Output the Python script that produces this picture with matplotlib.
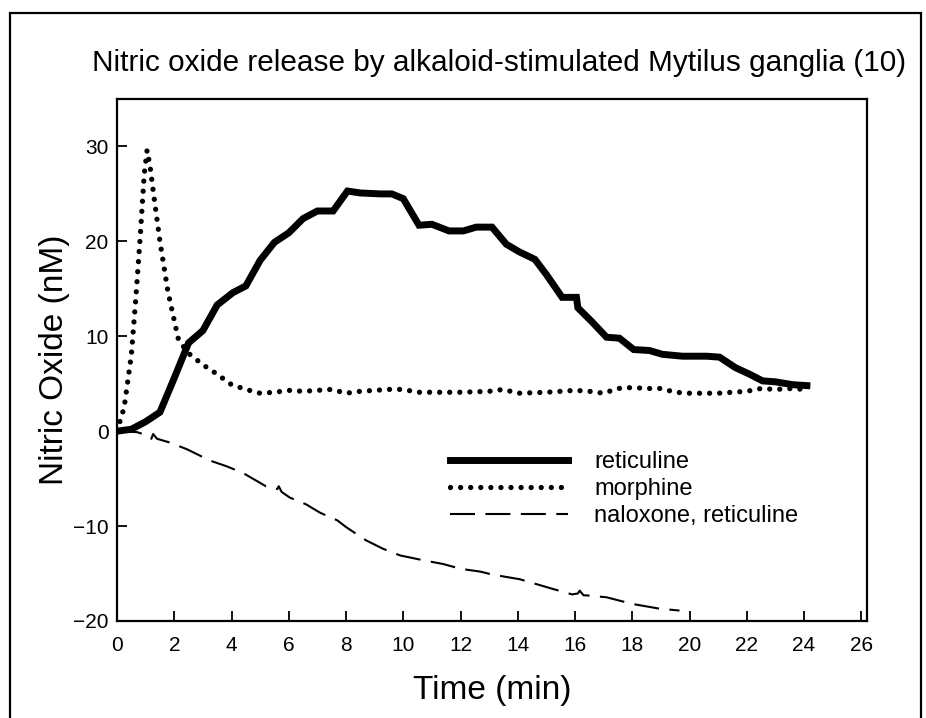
import matplotlib
matplotlib.use("Agg")
import matplotlib.pyplot as plt
from matplotlib.patches import Rectangle

plt.rcParams['font.family'] = ['Liberation Sans', 'DejaVu Sans']

# reticuline (solid)
ret_t = [0, 0.5, 1.0, 1.5, 2.0, 2.5, 3.0, 3.5, 4.05, 4.5, 5.0, 5.5, 6.0, 6.5, 7.0, 7.55,
         8.05, 8.5, 9.2, 9.6, 10.0, 10.55, 11.0, 11.6, 12.1, 12.55, 13.1, 13.6, 14.05,
         14.6, 15.0, 15.55, 16.05, 16.1, 16.6, 17.1, 17.55, 18.05, 18.6, 19.05, 19.75,
         20.6, 21.05, 21.6, 22.1, 22.55, 23.0, 23.6, 24.1]
ret_y = [0, 0.2, 1.0, 2.0, 5.6, 9.3, 10.6, 13.3, 14.6, 15.3, 18.0, 19.9, 20.9, 22.4, 23.2, 23.2,
         25.3, 25.1, 25.0, 25.0, 24.5, 21.7, 21.8, 21.1, 21.1, 21.5, 21.5, 19.7, 18.9,
         18.1, 16.5, 14.1, 14.1, 13.0, 11.5, 9.9, 9.8, 8.6, 8.5, 8.1, 7.9,
         7.9, 7.8, 6.7, 6.0, 5.3, 5.2, 4.9, 4.8]

# morphine (dotted)
mor_t = [0, 0.25, 0.5, 0.65, 0.8, 0.95, 1.05, 1.15, 1.3, 1.5, 1.78, 2.15, 2.5, 3.0, 3.5,
         4.0, 4.5, 5.0, 5.5, 6.0, 6.5, 7.0, 7.5, 8.0, 8.5, 9.0, 9.5, 10.0, 10.5, 11.0,
         12.0, 13.0, 13.5, 14.0, 15.0, 16.0, 16.5, 17.0, 17.5, 18.0, 18.5, 19.0, 19.5,
         20.0, 21.0, 22.0, 22.5, 23.0, 23.6, 24.0, 24.05]
mor_y = [0, 2.5, 8.0, 13.7, 20.0, 27.0, 29.6, 28.0, 24.5, 20.0, 14.7, 9.6, 8.2, 7.0, 6.0,
         4.9, 4.4, 4.0, 4.1, 4.3, 4.2, 4.3, 4.4, 4.0, 4.2, 4.3, 4.4, 4.4, 4.1, 4.1,
         4.1, 4.2, 4.4, 4.0, 4.1, 4.3, 4.2, 4.0, 4.5, 4.6, 4.5, 4.5, 4.1,
         4.0, 4.0, 4.2, 4.5, 4.4, 4.5, 4.4, 4.0]

# naloxone, reticuline (dashed)
nal_t = [0, 0.7, 1.1, 1.2, 1.26, 1.4, 1.85, 2.44, 3.25, 3.83, 4.4, 5.2, 5.6, 5.65, 5.75,
         6.04, 6.6, 7.1, 7.7, 8.0, 8.7, 9.3, 9.9, 10.7, 11.4, 12.0, 12.7, 13.1, 14.07,
         15.2, 15.9, 16.1, 16.16, 16.3, 16.4, 17.1, 18.0, 18.95, 19.65]
nal_y = [0, -0.1, -0.5, -0.8, -0.3, -0.8, -1.2, -1.9, -3.1, -3.7, -4.4, -5.8, -6.1, -5.8, -6.4,
         -7.0, -7.7, -8.6, -9.4, -10.1, -11.5, -12.4, -13.1, -13.6, -14.0, -14.5, -14.8, -15.1, -15.6,
         -16.6, -17.2, -17.1, -16.8, -17.3, -17.3, -17.5, -18.2, -18.7, -18.9]

labels = ["reticuline", "morphine", "naloxone, reticuline"]
xticks = list(range(0, 27, 2))
yticks = [-20, -10, 0, 10, 20, 30]

fig = plt.figure(figsize=(9.26, 7.18), dpi=100)
ax = fig.add_axes([117 / 926, 1 - 621 / 718, 750 / 926, 522 / 718])

ax.plot(ret_t, ret_y, color="black", lw=5, solid_joinstyle="miter", label=labels[0])
ax.plot(mor_t, mor_y, color="black", lw=3.8, linestyle=(0, (0.01, 1.9)),
        dash_capstyle="round", label=labels[1])
ax.plot(nal_t, nal_y, color="black", lw=1.5, linestyle=(0, (12, 5)), label=labels[2])

ax.set_xlim(0, 26.2)
ax.set_ylim(-20, 35)
ax.set_xticks(xticks)
ax.set_yticks(yticks)
ax.set_yticklabels(["\u221220", "\u221210", "0", "10", "20", "30"])
ax.tick_params(direction="in", length=7, width=1.3, labelsize=15, pad=6)
ax.tick_params(axis="x", pad=11)
for s in ax.spines.values():
    s.set_linewidth(1.6)

ax.set_xlabel("Time (min)", fontsize=24, labelpad=14)
ax.set_ylabel("Nitric Oxide (nM)", fontsize=24, labelpad=2)
ax.set_title("Nitric oxide release by alkaloid-stimulated Mytilus ganglia (10)",
             fontsize=21.4, pad=20, x=0.509)

ax.legend(loc="upper left", bbox_to_anchor=(0.444, 0.325), frameon=False, fontsize=17,
          handlelength=5.0, handletextpad=1.1, labelspacing=0.2, borderpad=0,
          borderaxespad=0)

# outer frame around the figure
fig.patches.append(Rectangle((10 / 926, -0.05), 911 / 926, 1.05 - 13 / 718,
                             transform=fig.transFigure, fill=False, lw=1.6,
                             edgecolor="black"))

fig.savefig("out.png", dpi=100)
